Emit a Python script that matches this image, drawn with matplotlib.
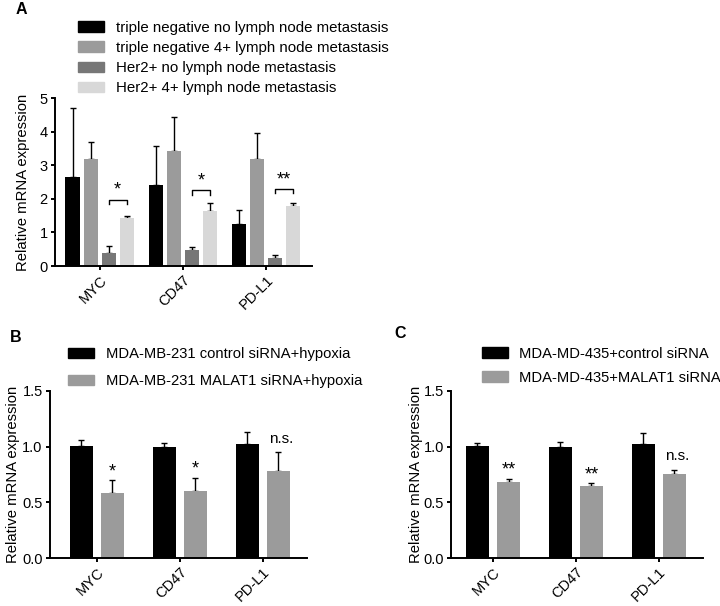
import numpy as np
import matplotlib
matplotlib.use('Agg')
import matplotlib.pyplot as plt

plt.rcParams['font.family'] = ['Liberation Sans', 'DejaVu Sans']

genes = ['MYC', 'CD47', 'PD-L1']

# ---- panel A data
a_labels = ['triple negative no lymph node metastasis',
            'triple negative 4+ lymph node metastasis',
            'Her2+ no lymph node metastasis',
            'Her2+ 4+ lymph node metastasis']
a_colors = ['#000000', '#9b9b9b', '#777777', '#d8d8d8']
a_tn_no = [2.65, 2.40, 1.25]
a_tn_4 = [3.20, 3.43, 3.20]
a_her_no = [0.38, 0.47, 0.25]
a_her_4 = [1.42, 1.65, 1.80]
a_tn_no_err = [2.05, 1.17, 0.42]
a_tn_4_err = [0.50, 1.00, 0.75]
a_her_no_err = [0.22, 0.10, 0.08]
a_her_4_err = [0.08, 0.23, 0.07]
a_sig = ['*', '*', '**']
a_sig_y = [1.98, 2.25, 2.30]

# ---- panel B data
b_labels = ['MDA-MB-231 control siRNA+hypoxia', 'MDA-MB-231 MALAT1 siRNA+hypoxia']
b_ctrl = [1.01, 1.00, 1.02]
b_si = [0.58, 0.60, 0.78]
b_ctrl_err = [0.05, 0.03, 0.11]
b_si_err = [0.12, 0.12, 0.17]
b_sig = ['*', '*', 'n.s.']

# ---- panel C data
c_labels = ['MDA-MD-435+control siRNA', 'MDA-MD-435+MALAT1 siRNA']
c_ctrl = [1.01, 1.00, 1.02]
c_si = [0.68, 0.65, 0.75]
c_ctrl_err = [0.02, 0.04, 0.10]
c_si_err = [0.03, 0.02, 0.04]
c_sig = ['**', '**', 'n.s.']

two_colors = ['#000000', '#9b9b9b']

fig = plt.figure(figsize=(7.2, 6.06), dpi=100)


def style_ax(ax, lab_x):
    for s in ['top', 'right']:
        ax.spines[s].set_visible(False)
    for s in ['left', 'bottom']:
        ax.spines[s].set_linewidth(1.4)
    ax.tick_params(width=1.4, length=3, pad=2, labelsize=10.5)
    ax.set_ylabel('Relative mRNA expression', fontsize=10.7)
    ax.yaxis.set_label_coords(lab_x, 0.5)


def bars(ax, x, vals, errs, w, col):
    ax.bar(x, vals, w, color=col, zorder=2)
    ax.errorbar(x, vals, yerr=[np.zeros(len(vals)), errs], fmt='none',
                ecolor='black', elinewidth=1, capsize=2.5, capthick=1, zorder=1)


x = np.arange(len(genes))

# ---------------- A
axA = fig.add_axes([0.076, 0.561, 0.357, 0.277])
w = 0.17
step = 0.217
series = [(a_tn_no, a_tn_no_err), (a_tn_4, a_tn_4_err),
          (a_her_no, a_her_no_err), (a_her_4, a_her_4_err)]
for i, (v, e) in enumerate(series):
    bars(axA, x + (i - 1.5) * step, v, e, w, a_colors[i])
for i in range(len(genes)):
    x0 = x[i] + 0.5 * step
    x1 = x[i] + 1.5 * step
    y = a_sig_y[i]
    axA.plot([x0, x0, x1, x1], [y - 0.13, y, y, y - 0.13], color='black', lw=1)
    axA.text((x0 + x1) / 2, y + 0.02, a_sig[i], ha='center', va='bottom', fontsize=13)
axA.set_xlim(-0.54, 2.55)
axA.set_ylim(0, 5)
axA.set_yticks([0, 1, 2, 3, 4, 5])
axA.set_xticks(x)
axA.set_xticklabels(genes, rotation=45, ha='right', rotation_mode='anchor')
style_ax(axA, -0.097)
hA = [plt.Rectangle((0, 0), 1, 1, color=c) for c in a_colors]
axA.legend(hA, a_labels, loc='upper left', bbox_to_anchor=(0.104, 0.971),
           bbox_transform=fig.transFigure, frameon=False, fontsize=10.8,
           handlelength=1.75, handleheight=0.7, labelspacing=0.42, handletextpad=0.8,
           borderaxespad=0.0, borderpad=0.2)
fig.text(0.022, 0.977, 'A', fontsize=11.5, fontweight='bold')


def panel_two(rect, ctrl, cerr, si, serr, sig, labels, leg_pos, lspace, tpad, letter_pos, letter, xl, lab_x):
    ax = fig.add_axes(rect)
    w2 = 0.28
    st = 0.375
    bars(ax, x - st / 2, ctrl, cerr, w2, two_colors[0])
    bars(ax, x + st / 2, si, serr, w2, two_colors[1])
    for i in range(len(genes)):
        top = si[i] + serr[i]
        if sig[i] == 'n.s.':
            ax.text(x[i] + st / 2 + 0.04, top + 0.06, sig[i], ha='center', va='bottom', fontsize=11)
        else:
            ax.text(x[i] + st / 2, top + 0.0, sig[i], ha='center', va='bottom', fontsize=13)
    ax.set_xlim(*xl)
    ax.set_ylim(0, 1.5)
    ax.set_yticks([0, 0.5, 1.0, 1.5])
    ax.set_yticklabels(['0.0', '0.5', '1.0', '1.5'])
    ax.set_xticks(x)
    ax.set_xticklabels(genes, rotation=45, ha='right', rotation_mode='anchor')
    style_ax(ax, lab_x)
    h = [plt.Rectangle((0, 0), 1, 1, color=c) for c in two_colors]
    ax.legend(h, labels, loc='upper left', bbox_to_anchor=leg_pos,
              bbox_transform=fig.transFigure, frameon=False, fontsize=10.6,
              handlelength=1.75, handleheight=0.7, labelspacing=lspace, handletextpad=tpad,
              borderaxespad=0.0, borderpad=0.2)
    fig.text(letter_pos[0], letter_pos[1], letter, fontsize=11.5, fontweight='bold')
    return ax


panel_two([0.069, 0.079, 0.357, 0.276], b_ctrl, b_ctrl_err, b_si, b_si_err, b_sig,
          b_labels, (0.090, 0.432), 0.9, 0.85, (0.014, 0.436), 'B', (-0.57, 2.53), -0.117)
panel_two([0.626, 0.079, 0.350, 0.276], c_ctrl, c_ctrl_err, c_si, c_si_err, c_sig,
          c_labels, (0.665, 0.433), 0.68, 0.75, (0.548, 0.442), 'C', (-0.51, 2.53), -0.111)

fig.savefig('out.png', dpi=100)
